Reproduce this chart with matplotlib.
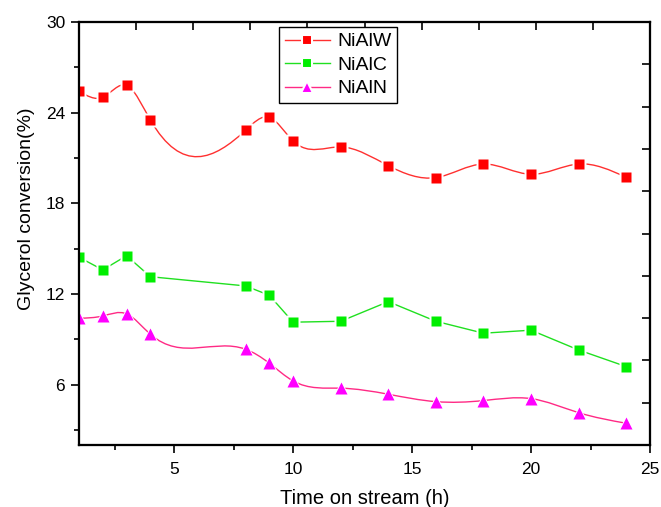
import numpy as np
import matplotlib
matplotlib.use("Agg")
import matplotlib.pyplot as plt
from matplotlib.path import Path
from matplotlib.patches import PathPatch
from matplotlib.ticker import FixedLocator, NullFormatter

plt.rcParams['font.family'] = ['Liberation Sans', 'DejaVu Sans']

time_h = [1, 2, 3, 4, 8, 9, 10, 12, 14, 16, 18, 20, 22, 24]
nialw = [25.43, 25.02, 25.81, 23.51, 22.83, 23.69, 22.12, 21.73, 20.49, 19.70, 20.60, 19.92, 20.60, 19.72]
nialc = [14.43, 13.59, 14.53, 13.14, 12.53, 11.91, 10.13, 10.19, 11.49, 10.19, 9.40, 9.60, 8.29, 7.19]
nialn = [10.39, 10.54, 10.68, 9.33, 8.34, 7.41, 6.24, 5.76, 5.36, 4.87, 4.94, 5.07, 4.14, 3.44]
labels = ["NiAlW", "NiAlC", "NiAlN"]


def spline_path(x, y):
    """Natural cubic spline through the data, expressed as Bezier segments."""
    x = np.asarray(x, float)
    y = np.asarray(y, float)
    n = len(x)
    h = np.diff(x)
    A = np.zeros((n, n))
    b = np.zeros(n)
    A[0, 0] = 1
    A[-1, -1] = 1
    for i in range(1, n - 1):
        A[i, i - 1] = h[i - 1]
        A[i, i] = 2 * (h[i - 1] + h[i])
        A[i, i + 1] = h[i]
        b[i] = 6 * ((y[i + 1] - y[i]) / h[i] - (y[i] - y[i - 1]) / h[i - 1])
    M = np.linalg.solve(A, b)
    verts = [(x[0], y[0])]
    codes = [Path.MOVETO]
    for i in range(n - 1):
        hi = h[i]
        d0 = (y[i + 1] - y[i]) / hi - hi * (2 * M[i] + M[i + 1]) / 6
        d1 = (y[i + 1] - y[i]) / hi + hi * (M[i] + 2 * M[i + 1]) / 6
        verts += [(x[i] + hi / 3, y[i] + d0 * hi / 3),
                  (x[i + 1] - hi / 3, y[i + 1] - d1 * hi / 3),
                  (x[i + 1], y[i + 1])]
        codes += [Path.CURVE4] * 3
    return Path(verts, codes)


fig = plt.figure(figsize=(6.61, 5.07), dpi=100)
ax = fig.add_axes([79 / 661, 1 - 445 / 507, 571 / 661, 423 / 507])

series = [
    (nialw, 's', '#ff0000', '#ff3030', True),
    (nialc, 's', '#00ee00', '#20e020', False),
    (nialn, '^', '#ff00ff', '#ff2a85', True),
]

handles = []
for (vals, mk, mc, lc, smooth), lab in zip(series, labels):
    if smooth:
        ax.add_patch(PathPatch(spline_path(time_h, vals), fill=False,
                               edgecolor=lc, lw=1.0, zorder=2))
    else:
        ax.plot(time_h, vals, color=lc, lw=1.0, zorder=2)
    ms = 7.5 if mk == 's' else 8.5
    ax.plot(time_h, vals, linestyle='none', marker=mk, markersize=ms + 3,
            markerfacecolor='white', markeredgecolor='none', zorder=3)
    ax.plot(time_h, vals, linestyle='none', marker=mk, markersize=ms,
            markerfacecolor=mc, markeredgecolor='none', zorder=4)
    h, = ax.plot([], [], color=lc, lw=1.0, marker=mk, markersize=ms,
                 markerfacecolor=mc, markeredgecolor='white', markeredgewidth=1.5,
                 label=lab)
    handles.append(h)

ax.set_xlim(1, 25)
ax.set_ylim(2, 30)
ax.xaxis.set_major_locator(FixedLocator([5, 10, 15, 20, 25]))
ax.xaxis.set_minor_locator(FixedLocator([2.5, 7.5, 12.5, 17.5, 22.5]))
ax.yaxis.set_major_locator(FixedLocator([6, 12, 18, 24, 30]))
ax.yaxis.set_minor_locator(FixedLocator([3, 9, 15, 21, 27]))
ax.tick_params(which='major', direction='out', length=6, width=1.2,
               labelsize=12.5, pad=4, color='black')
ax.tick_params(which='minor', direction='out', length=3.5, width=1.2)
ax.tick_params(axis='x', which='major', pad=6)

for s in ax.spines.values():
    s.set_linewidth(1.5)

# top and right axes with ticks at tenths of the axis
ax_top = ax.twiny()
ax_top.set_xlim(0, 1)
ax_top.xaxis.set_major_locator(FixedLocator(np.arange(1, 10) / 10))
ax_top.xaxis.set_major_formatter(NullFormatter())
ax_top.tick_params(axis='x', direction='in', length=6, width=1.2, top=True)
ax_right = ax.twinx()
ax_right.set_ylim(0, 1)
ax_right.yaxis.set_major_locator(FixedLocator(np.arange(1, 10) / 10))
ax_right.yaxis.set_major_formatter(NullFormatter())
ax_right.tick_params(axis='y', direction='in', length=6, width=1.2, right=True)
for a in (ax_top, ax_right):
    for s in a.spines.values():
        s.set_linewidth(1.5)

ax.set_xlabel("Time on stream (h)", fontsize=14.5, labelpad=9)
ax.set_ylabel("Glycerol conversion(%)", fontsize=14, labelpad=10)
ax.yaxis.set_label_coords(-0.077, (445 - 208.5) / 423)

leg = ax_right.legend(handles=handles, loc='upper left',
                      bbox_to_anchor=((279 - 79) / 571, 1 - (27 - 22) / 423),
                      fontsize=14, frameon=True, fancybox=False,
                      edgecolor='black', framealpha=1, borderpad=0.3,
                      labelspacing=0.3, handlelength=2.3, handletextpad=0.4,
                      borderaxespad=0)
leg.get_frame().set_linewidth(1.0)

fig.savefig("out.png", dpi=100)
